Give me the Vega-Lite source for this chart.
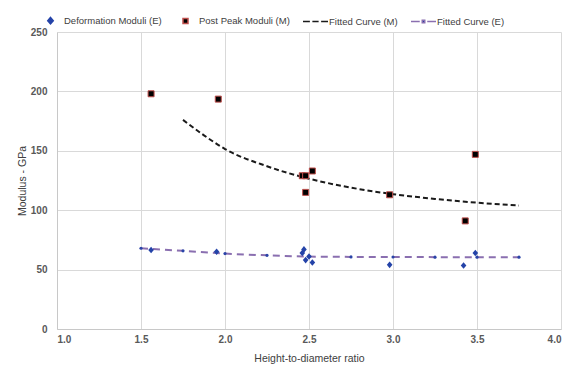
{
  "$schema": "https://vega.github.io/schema/vega-lite/v6.json",
  "autosize": "none",
  "width": 504,
  "height": 297,
  "padding": {"left": 57, "top": 32, "right": 13, "bottom": 38},
  "background": "white",
  "config": {
    "view": {"stroke": null},
    "font": "Liberation Sans",
    "axis": {
      "gridColor": "#d9d9d9",
      "gridWidth": 1,
      "domainColor": "#c8c8c8",
      "ticks": false,
      "labelFont": "Liberation Sans",
      "labelFontSize": 10,
      "labelFontWeight": "bold",
      "labelColor": "#595959",
      "titleFont": "Liberation Sans",
      "titleFontSize": 10.5,
      "titleFontWeight": "normal",
      "titleColor": "#404040"
    }
  },
  "datasets": {
    "pts": [
      {"series": "Deformation Moduli (E)", "x": 1.56, "y": 66.5},
      {"series": "Deformation Moduli (E)", "x": 1.95, "y": 65},
      {"series": "Deformation Moduli (E)", "x": 2.46, "y": 64},
      {"series": "Deformation Moduli (E)", "x": 2.47, "y": 67},
      {"series": "Deformation Moduli (E)", "x": 2.48, "y": 58},
      {"series": "Deformation Moduli (E)", "x": 2.5, "y": 61},
      {"series": "Deformation Moduli (E)", "x": 2.52, "y": 56},
      {"series": "Deformation Moduli (E)", "x": 2.98, "y": 54},
      {"series": "Deformation Moduli (E)", "x": 3.42, "y": 53.5},
      {"series": "Deformation Moduli (E)", "x": 3.49, "y": 64},
      {"series": "Post Peak Moduli (M)", "x": 1.56, "y": 198},
      {"series": "Post Peak Moduli (M)", "x": 1.96, "y": 193.5},
      {"series": "Post Peak Moduli (M)", "x": 2.46, "y": 129},
      {"series": "Post Peak Moduli (M)", "x": 2.48, "y": 129},
      {"series": "Post Peak Moduli (M)", "x": 2.52, "y": 133},
      {"series": "Post Peak Moduli (M)", "x": 2.48, "y": 115},
      {"series": "Post Peak Moduli (M)", "x": 2.98, "y": 113},
      {"series": "Post Peak Moduli (M)", "x": 3.43, "y": 91},
      {"series": "Post Peak Moduli (M)", "x": 3.49, "y": 147}
    ],
    "fit": [
      {"series": "Fitted Curve (M)", "x": 1.75, "y": 176},
      {"series": "Fitted Curve (M)", "x": 1.875, "y": 163},
      {"series": "Fitted Curve (M)", "x": 2.0, "y": 151.5},
      {"series": "Fitted Curve (M)", "x": 2.25, "y": 137},
      {"series": "Fitted Curve (M)", "x": 2.5, "y": 126.5},
      {"series": "Fitted Curve (M)", "x": 2.75, "y": 119},
      {"series": "Fitted Curve (M)", "x": 3.0, "y": 113.5},
      {"series": "Fitted Curve (M)", "x": 3.25, "y": 109.5},
      {"series": "Fitted Curve (M)", "x": 3.5, "y": 106.3},
      {"series": "Fitted Curve (M)", "x": 3.75, "y": 104},
      {"series": "Fitted Curve (E)", "x": 1.5, "y": 68},
      {"series": "Fitted Curve (E)", "x": 1.75, "y": 65.8},
      {"series": "Fitted Curve (E)", "x": 2.0, "y": 63.5},
      {"series": "Fitted Curve (E)", "x": 2.25, "y": 62},
      {"series": "Fitted Curve (E)", "x": 2.5, "y": 61},
      {"series": "Fitted Curve (E)", "x": 2.75, "y": 60.7},
      {"series": "Fitted Curve (E)", "x": 3.0, "y": 60.6},
      {"series": "Fitted Curve (E)", "x": 3.25, "y": 60.5},
      {"series": "Fitted Curve (E)", "x": 3.5, "y": 60.5},
      {"series": "Fitted Curve (E)", "x": 3.75, "y": 60.5}
    ]
  },
  "encoding": {
    "x": {
      "field": "x", "type": "quantitative",
      "scale": {"domain": [1, 4], "nice": false},
      "axis": {"values": [1, 1.5, 2, 2.5, 3, 3.5, 4], "format": ".1f", "title": "Height-to-diameter ratio", "labelPadding": 5, "titlePadding": 9, "grid": true}
    },
    "y": {
      "field": "y", "type": "quantitative",
      "scale": {"domain": [0, 250], "nice": false},
      "axis": {"values": [0, 50, 100, 150, 200, 250], "title": "Modulus  -  GPa", "labelPadding": 10, "titlePadding": 3, "grid": true}
    }
  },
  "layer": [
    {
      "data": {"name": "fit"},
      "transform": [{"filter": "datum.series === 'Fitted Curve (M)'"}],
      "mark": {"type": "line", "stroke": "#1a1a1a", "strokeWidth": 2, "strokeDash": [5, 3], "interpolate": "monotone"}
    },
    {
      "data": {"name": "fit"},
      "transform": [{"filter": "datum.series === 'Fitted Curve (E)'"}],
      "mark": {"type": "line", "stroke": "#8a6fb0", "strokeWidth": 2, "strokeDash": [7, 5], "interpolate": "monotone"}
    },
    {
      "data": {"name": "fit"},
      "transform": [{"filter": "datum.series === 'Fitted Curve (E)'"}],
      "mark": {"type": "point", "filled": true, "color": "#2a44a8", "size": 10, "opacity": 1}
    },
    {
      "data": {"name": "pts"},
      "transform": [{"filter": "datum.series === 'Post Peak Moduli (M)'"}],
      "mark": {"type": "point", "shape": "square", "filled": true, "fill": "#000000", "stroke": "#c0504d", "strokeWidth": 1, "size": 36, "opacity": 1}
    },
    {
      "data": {"name": "pts"},
      "transform": [{"filter": "datum.series === 'Deformation Moduli (E)'"}],
      "mark": {"type": "point", "filled": true, "color": "#2443a8", "size": 650, "opacity": 1},
      "encoding": {
        "shape": {
          "field": "series", "type": "nominal",
          "scale": {
            "domain": ["Deformation Moduli (E)", "Post Peak Moduli (M)", "Fitted Curve (M)", "Fitted Curve (E)"],
            "range": ["M0,-0.26L0.22,0L0,0.26L-0.22,0Z", "M-0.2,-0.2H0.2V0.2H-0.2Z", "M-1,0H-0.45M-0.25,0H0.25M0.45,0H1", "M-1,0H-0.3M0.3,0H1M-0.1,-0.1H0.1V0.1H-0.1Z"]
          },
          "legend": {
            "orient": "none",
            "legendX": -20,
            "legendY": -25,
            "padding": 0,
            "title": null,
            "direction": "horizontal",
            "symbolSize": 625,
            "symbolStrokeWidth": 1.5,
            "labelFont": "Liberation Sans",
            "labelFontSize": 9.5,
            "labelColor": "#404040",
            "labelOffset": 0,
            "columnPadding": 10,
            "encoding": {
              "symbols": {
                "fill": {"value": {"expr": "datum.value === 'Post Peak Moduli (M)' || datum.value === 'Fitted Curve (M)' ? '#000000' : '#2443a8'"}},
                "stroke": {"value": {"expr": "datum.value === 'Post Peak Moduli (M)' ? '#c0504d' : datum.value === 'Fitted Curve (M)' ? '#1a1a1a' : datum.value === 'Fitted Curve (E)' ? '#8a6fb0' : '#2443a8'"}}
              }
            }
          }
        }
      }
    }
  ]
}
